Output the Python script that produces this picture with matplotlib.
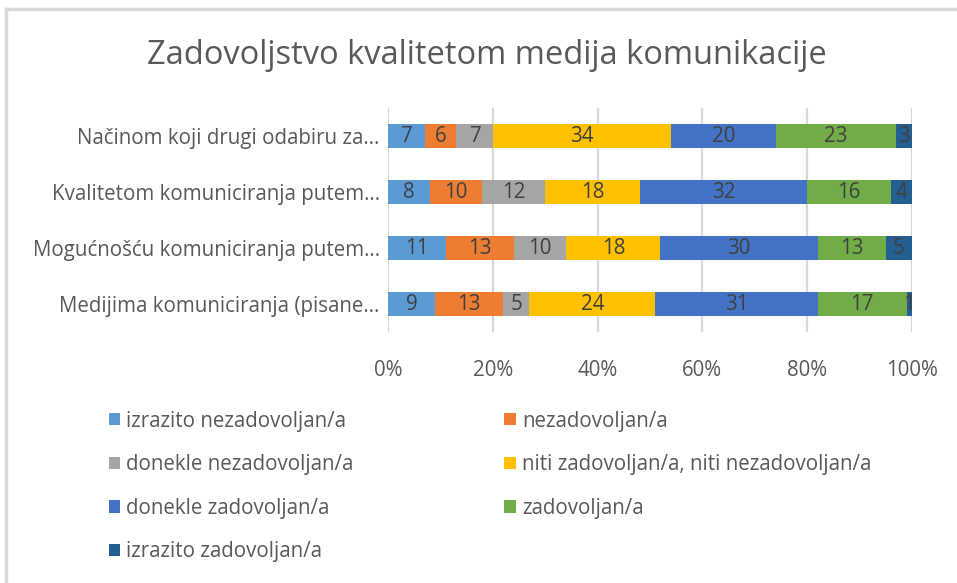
import matplotlib.pyplot as plt
from matplotlib.patches import Patch
from matplotlib.lines import Line2D

plt.rcParams['font.family'] = ['Open Sans', 'DejaVu Sans']

categories = [
    'Medijima komuniciranja (pisane…',
    'Mogućnošću komuniciranja putem…',
    'Kvalitetom komuniciranja putem…',
    'Načinom koji drugi odabiru za…',
]
series_names = [
    'izrazito nezadovoljan/a',
    'nezadovoljan/a',
    'donekle nezadovoljan/a',
    'niti zadovoljan/a, niti nezadovoljan/a',
    'donekle zadovoljan/a',
    'zadovoljan/a',
    'izrazito zadovoljan/a',
]
# values per series, rows in the order of categories (bottom to top)
izrazito_nezadovoljan = [9, 11, 8, 7]
nezadovoljan = [13, 13, 10, 6]
donekle_nezadovoljan = [5, 10, 12, 7]
niti_niti = [24, 18, 18, 34]
donekle_zadovoljan = [31, 30, 32, 20]
zadovoljan = [17, 13, 16, 23]
izrazito_zadovoljan = [1, 5, 4, 3]
colors = ['#5B9BD5', '#ED7D31', '#A5A5A5', '#FFC000', '#4472C4', '#70AD47', '#255E91']

series = [izrazito_nezadovoljan, nezadovoljan, donekle_nezadovoljan, niti_niti,
          donekle_zadovoljan, zadovoljan, izrazito_zadovoljan]

FS = 14.8


def main():
    fig = plt.figure(figsize=(9.57, 5.83), dpi=100)
    ax = fig.add_axes([388 / 957, 1 - 332 / 583, 524 / 957, 224 / 583])

    y = range(len(categories))
    left = [0] * len(categories)
    for vals, name, col in zip(series, series_names, colors):
        totals = [sum(s[i] for s in series) for i in y]
        widths = [v / t for v, t in zip(vals, totals)]
        ax.barh(y, widths, left=left, height=0.42, color=col, label=name, zorder=3)
        for i, (w, l, v) in enumerate(zip(widths, left, vals)):
            ax.text(l + w / 2, i, str(v), ha='center', va='center',
                    fontsize=FS, color='#404040', zorder=4)
        left = [l + w for l, w in zip(left, widths)]

    ax.set_xlim(0, 1)
    ax.set_ylim(-0.5, 3.5)
    ax.set_xticks([0, 0.2, 0.4, 0.6, 0.8, 1.0])
    ax.set_xticklabels(['0%', '20%', '40%', '60%', '80%', '100%'])
    ax.set_yticks(list(y))
    ax.set_yticklabels(categories)
    ax.tick_params(axis='both', length=0, labelsize=FS, colors='#595959')
    ax.tick_params(axis='x', pad=20)
    ax.tick_params(axis='y', pad=6)
    ax.grid(axis='x', color='#D9D9D9', linewidth=1.6, zorder=0)
    for s in ax.spines.values():
        s.set_visible(False)

    fig.text(487 / 957, 1 - 55 / 583, 'Zadovoljstvo kvalitetom medija komunikacije',
             ha='center', va='center', fontsize=23.5, color='#595959')

    handles = [Patch(facecolor=c) for c in colors]
    order = [0, 2, 4, 6, 1, 3, 5]
    fig.legend([handles[i] for i in order], [series_names[i] for i in order],
               ncol=2, loc='upper left', bbox_to_anchor=(90 / 957, 1 - 392 / 583),
               frameon=False, fontsize=FS, labelcolor='#595959',
               handlelength=0.55, handleheight=0.55, handletextpad=0.3,
               labelspacing=1.1, columnspacing=7.35)

    # chart border (cropped screenshot: top and left edges visible)
    fig.add_artist(Line2D([6 / 957, 6 / 957], [0, 1 - 9 / 583], color='#D9D9D9', linewidth=2.5))
    fig.add_artist(Line2D([6 / 957, 1], [1 - 9 / 583, 1 - 9 / 583], color='#D9D9D9', linewidth=2.5))

    fig.savefig('out.png', dpi=100)


if __name__ == '__main__':
    main()
